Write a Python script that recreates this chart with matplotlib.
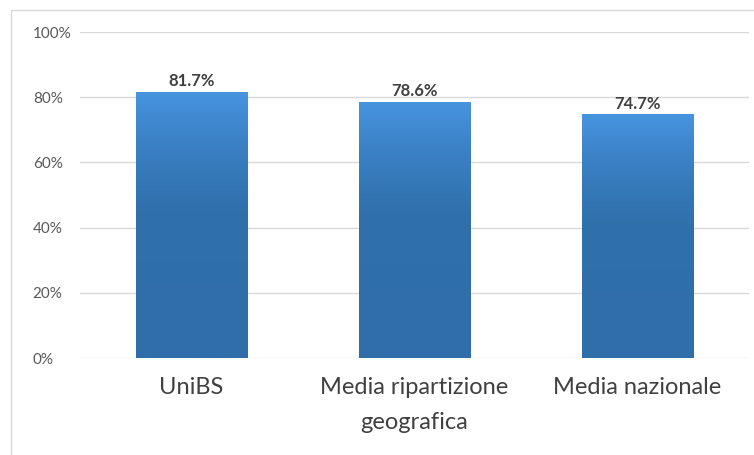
import numpy as np
import matplotlib.pyplot as plt
from matplotlib.colors import LinearSegmentedColormap
from matplotlib.patches import Rectangle

categories = ['UniBS', 'Media ripartizione\ngeografica', 'Media nazionale']
values = [81.7, 78.6, 74.7]
value_labels = ['81.7%', '78.6%', '74.7%']
yticks = [0, 20, 40, 60, 80, 100]

plt.rcParams['font.family'] = ['Lato', 'DejaVu Sans']

fig = plt.figure(figsize=(7.54, 4.55), dpi=100)
# light frame around the chart area (Excel style)
fig.patches.append(Rectangle((11 / 754, -0.1), 1.2, 1 - 10 / 455 + 0.1,
                             transform=fig.transFigure, fill=False,
                             edgecolor='#d9d9d9', linewidth=1))
ax = fig.add_axes([80 / 754, 1 - 358 / 455, (749 - 80) / 754, (358 - 32) / 455])

x = np.arange(len(categories))
width = 0.5
cmap = LinearSegmentedColormap.from_list(
    'bar', [(0, '#2f6ea8'), (0.55, '#3070ab'), (0.8, '#3a80c4'), (1, '#4794df')])
grad = np.linspace(0, 1, 256).reshape(-1, 1)

bars = ax.bar(x, values, width=width, color='none', edgecolor='none', zorder=2)
for bar in bars:
    bx, bw, bh = bar.get_x(), bar.get_width(), bar.get_height()
    im = ax.imshow(grad, cmap=cmap, origin='lower', aspect='auto',
                   extent=[bx, bx + bw, 0, bh], zorder=2, interpolation='bilinear')
    im.set_clip_path(bar)

for xi, v, lab in zip(x, values, value_labels):
    ax.text(xi, v + 0.8, lab, ha='center', va='bottom', fontsize=12,
            fontweight='bold', color='#404040', zorder=3)

ax.set_xlim(-0.5, len(categories) - 0.5)
ax.set_ylim(0, 100)
ax.set_yticks(yticks)
ax.set_yticklabels([f'{t}%' for t in yticks], fontsize=11, color='#595959')
ax.set_xticks(x)
ax.set_xticklabels(categories, fontsize=17, color='#404040', linespacing=1.8)
ax.tick_params(axis='y', length=0, pad=34)
ax.tick_params(axis='x', length=0, pad=14)
for lbl in ax.get_yticklabels():
    lbl.set_horizontalalignment('left')
ax.grid(axis='y', color='#d9d9d9', linewidth=1)
ax.set_axisbelow(True)
for s in ax.spines.values():
    s.set_visible(False)

fig.savefig('out.png', dpi=100)
